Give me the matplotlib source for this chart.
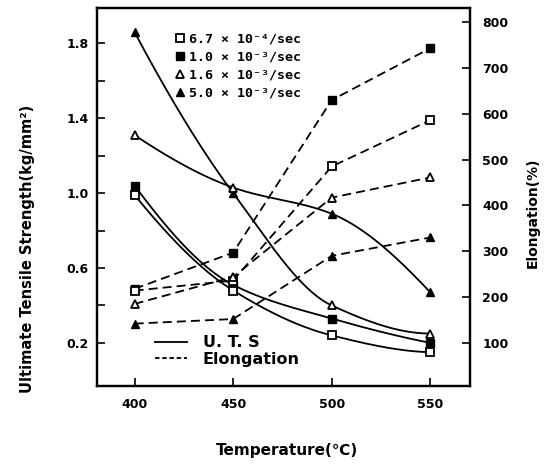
import numpy as np
import matplotlib
matplotlib.use("Agg")
import matplotlib.pyplot as plt
from matplotlib.lines import Line2D

# temperatures (deg C)
temps = [400, 450, 500, 550]

# UTS curves as drawn (kg/mm2). The two upper curves cross near 450,
# so the markers on them swap: steep curve starts with a filled triangle.
uts_steep = [1.86, 1.00, 0.40, 0.25]
uts_gentle = [1.31, 1.03, 0.89, 0.47]
uts_fsq = [1.04, 0.51, 0.33, 0.20]
uts_osq = [0.99, 0.48, 0.24, 0.15]

# elongation (%)
el_fsq = [218, 297, 630, 743]
el_osq = [214, 236, 485, 586]
el_otri = [185, 244, 417, 461]
el_ftri = [142, 152, 290, 330]

rate_labels = ["6.7 × 10⁻⁴/sec", "1.0 × 10⁻³/sec",
               "1.6 × 10⁻³/sec", "5.0 × 10⁻³/sec"]


def pchip(x, y, xs):
    # monotone cubic through the points, only to draw the smooth curves
    x = np.asarray(x, float); y = np.asarray(y, float)
    h = np.diff(x); d = np.diff(y) / h
    n = len(x)
    m = np.zeros(n)
    for k in range(1, n - 1):
        if d[k - 1] * d[k] > 0:
            w1 = 2 * h[k] + h[k - 1]; w2 = h[k] + 2 * h[k - 1]
            m[k] = (w1 + w2) / (w1 / d[k - 1] + w2 / d[k])
    def end(h0, h1, d0, d1):
        s = ((2 * h0 + h1) * d0 - h0 * d1) / (h0 + h1)
        if np.sign(s) != np.sign(d0):
            return 0.0
        if np.sign(d0) != np.sign(d1) and abs(s) > abs(3 * d0):
            return 3 * d0
        return s
    m[0] = end(h[0], h[1], d[0], d[1])
    m[-1] = end(h[-1], h[-2], d[-1], d[-2])
    i = np.clip(np.searchsorted(x, xs) - 1, 0, n - 2)
    t = (xs - x[i]) / h[i]
    h00 = 2 * t**3 - 3 * t**2 + 1; h10 = t**3 - 2 * t**2 + t
    h01 = -2 * t**3 + 3 * t**2; h11 = t**3 - t**2
    return h00 * y[i] + h10 * h[i] * m[i] + h01 * y[i + 1] + h11 * h[i] * m[i + 1]


plt.rcParams["font.family"] = ["DejaVu Sans"]
fig = plt.figure(figsize=(5.52, 4.65), dpi=100)
ax = fig.add_axes([0.176, 0.170, 0.675, 0.813])
ax2 = ax.twinx()

xs = np.linspace(400, 550, 200)
lw = 1.3
ms = 5.5
mew = 1.3
for ys in (uts_steep, uts_gentle, uts_fsq, uts_osq):
    ax.plot(xs, pchip(temps, ys, xs), "-", color="black", lw=lw)

# markers on the UTS curves
ax.plot(temps[:2], uts_steep[:2], "^", color="black", ms=ms)
ax.plot(temps[2:], uts_gentle[2:], "^", color="black", ms=ms)
ax.plot(temps[:2], uts_gentle[:2], "^", mfc="white", mec="black", mew=mew, ms=ms)
ax.plot(temps[2:], uts_steep[2:], "^", mfc="white", mec="black", mew=mew, ms=ms)
ax.plot(temps, uts_fsq, "s", color="black", ms=ms)
ax.plot(temps, uts_osq, "s", mfc="white", mec="black", mew=mew, ms=ms)

dash = (0, (5, 2.8))
ax2.plot(temps, el_fsq, ls=dash, marker="s", color="black", lw=lw, ms=ms)
ax2.plot(temps, el_osq, ls=dash, marker="s", color="black", mfc="white", mew=mew, lw=lw, ms=ms)
ax2.plot(temps, el_otri, ls=dash, marker="^", color="black", mfc="white", mew=mew, lw=lw, ms=ms)
ax2.plot(temps, el_ftri, ls=dash, marker="^", color="black", lw=lw, ms=ms)

ax.set_xlim(381, 570)
ax.set_ylim(-0.03, 1.99)
ax2.set_ylim(6, 831)

ax.set_xticks(temps)
ax.set_yticks([0.2, 0.4, 0.6, 0.8, 1.0, 1.2, 1.4, 1.6, 1.8])
ax.set_yticklabels(["0.2", "", "0.6", "", "1.0", "", "1.4", "", "1.8"])
ax2.set_yticks(range(100, 801, 100))

for a in (ax, ax2):
    for s in a.spines.values():
        s.set_linewidth(1.6)
ax.tick_params(axis="x", direction="in", length=6, width=1.2, pad=9, labelsize=9)
ax.tick_params(axis="y", direction="in", length=6, width=1.2, pad=6, labelsize=9)
ax2.tick_params(axis="y", direction="in", length=6, width=1.2, pad=9, labelsize=9)
for lab in ax.get_xticklabels() + ax.get_yticklabels() + ax2.get_yticklabels():
    lab.set_fontweight("bold")

# strain-rate legend
handles = [
    Line2D([], [], ls="", marker="s", mfc="white", mec="black", mew=mew, ms=ms),
    Line2D([], [], ls="", marker="s", color="black", ms=ms),
    Line2D([], [], ls="", marker="^", mfc="white", mec="black", mew=mew, ms=ms),
    Line2D([], [], ls="", marker="^", color="black", ms=ms),
]
leg1 = ax.legend(handles, rate_labels, loc="upper left", bbox_to_anchor=(0.21, 0.935),
                 frameon=False, borderpad=0, borderaxespad=0, handlelength=0.7,
                 handletextpad=0.3, labelspacing=0.38,
                 prop={"family": "DejaVu Sans Mono", "weight": "bold", "size": 9.5})
ax.add_artist(leg1)

line_handles = [Line2D([], [], ls="-", color="black", lw=lw),
                Line2D([], [], ls=(0, (2.5, 1.5)), color="black", lw=lw)]
ax.legend(line_handles, ["U. T. S", "Elongation"], loc="lower left",
          bbox_to_anchor=(0.155, 0.05), frameon=False, borderpad=0, borderaxespad=0,
          handlelength=2.0, handletextpad=1.0, labelspacing=0.1,
          prop={"weight": "bold", "size": 11.5})

fig.text(28 / 552, 1 - 249 / 465, "Ultimate Tensile Strength(kg/mm²)", rotation=90,
         ha="center", va="center", fontsize=10.5, fontweight="bold")
fig.text(533 / 552, 1 - 213 / 465, "Elongation(%)", rotation=90,
         ha="center", va="center", fontsize=10, fontweight="bold")
fig.text(287 / 552, 1 - 450 / 465, "Temperature(℃)",
         ha="center", va="center", fontsize=11, fontweight="bold")

fig.savefig("out.png", dpi=100)
